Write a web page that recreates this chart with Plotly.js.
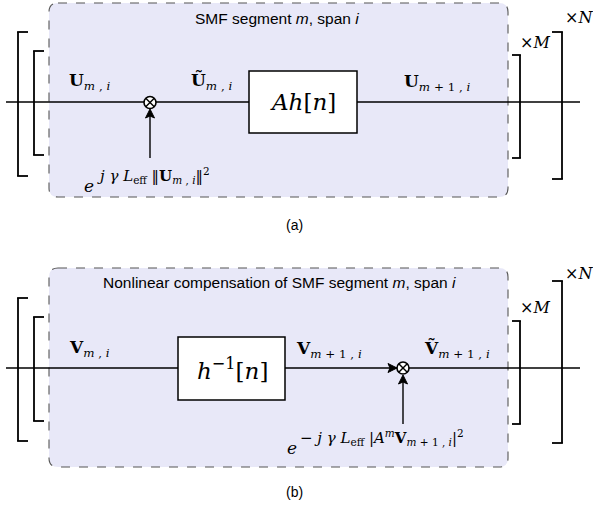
<!DOCTYPE html>
<html>
<head>
<meta charset="utf-8">
<script src="https://cdn.plot.ly/plotly-3.0.1.min.js"></script>
<style>html,body{margin:0;padding:0;background:#fff;}#chart{width:593px;height:506px;}</style>
</head>
<body>
<div id="chart"></div>
<script>
// ---- diagram text content ----
var panelTitles = [
  'SMF segment <i>m</i>, span <i>i</i>',
  'Nonlinear compensation of SMF segment <i>m</i>, span <i>i</i>'
];
var signalLabelsA = [
  '<b>U</b><sub><i>m</i> , <i>i</i></sub>',
  '<b>Ũ</b><sub><i>m</i> , <i>i</i></sub>',
  '<b>U</b><sub><i>m</i> + 1 , <i>i</i></sub>'
];
var signalLabelsB = [
  '<b>V</b><sub><i>m</i> , <i>i</i></sub>',
  '<b>V</b><sub><i>m</i> + 1 , <i>i</i></sub>',
  '<b>Ṽ</b><sub><i>m</i> + 1 , <i>i</i></sub>'
];
var blockLabels = [
  '<i>Ah</i>[<i>n</i>]',
  '<i>h</i><sup>−1</sup>[<i>n</i>]'
];
var phaseBase = ['<i>e</i>', '<i>e</i>'];
var phaseExponents = [
  '<i>j γ L</i><sub>eff</sub> ‖<b>U</b><sub><i>m</i> , <i>i</i></sub>‖<sup>2</sup>',
  '− <i>j γ L</i><sub>eff</sub> |<i>A</i><sup><i>m</i></sup><b>V</b><sub><i>m</i> + 1 , <i>i</i></sub>|<sup>2</sup>'
];
var repeatLabels = ['×<i>N</i>', '×<i>M</i>'];
var captions = ['(a)', '(b)'];

// ---- drawing helpers ----
var shapes = [];
var annotations = [];
var K = '#000';
function line(x0, y0, x1, y1, w, col, dash) {
  shapes.push({type: 'line', xref: 'x', yref: 'y', x0: x0, y0: y0, x1: x1, y1: y1,
    line: {color: col || K, width: w || 1.4, dash: dash || 'solid'}});
}
function rect(x0, y0, x1, y1) {
  shapes.push({type: 'rect', xref: 'x', yref: 'y', x0: x0, y0: y0, x1: x1, y1: y1,
    fillcolor: '#fff', line: {color: K, width: 1.5}});
}
function roundRect(x0, y0, x1, y1, r) {
  var p = 'M' + (x0 + r) + ',' + y0 + ' L' + (x1 - r) + ',' + y0 + ' Q' + x1 + ',' + y0 + ' ' + x1 + ',' + (y0 + r) +
    ' L' + x1 + ',' + (y1 - r) + ' Q' + x1 + ',' + y1 + ' ' + (x1 - r) + ',' + y1 +
    ' L' + (x0 + r) + ',' + y1 + ' Q' + x0 + ',' + y1 + ' ' + x0 + ',' + (y1 - r) +
    ' L' + x0 + ',' + (y0 + r) + ' Q' + x0 + ',' + y0 + ' ' + (x0 + r) + ',' + y0 + ' Z';
  shapes.push({type: 'path', xref: 'x', yref: 'y', path: p, fillcolor: '#e8e8f8',
    line: {color: '#555', width: 1.1, dash: 'dash'}, layer: 'below'});
}
function bracketL(x, y0, y1, tick) {
  line(x, y0, x, y1, 1.8); line(x - 0.9, y0, x + tick, y0, 1.8); line(x - 0.9, y1, x + tick, y1, 1.8);
}
function bracketR(x, y0, y1, tick) {
  line(x, y0, x, y1, 1.8); line(x + 0.9, y0, x - tick, y0, 1.8); line(x + 0.9, y1, x - tick, y1, 1.8);
}
function arrowHead(x, y, dir) {
  var p;
  if (dir === 'up') p = 'M' + x + ',' + y + ' L' + (x - 4.5) + ',' + (y + 9) + ' L' + x + ',' + (y + 7) + ' L' + (x + 4.5) + ',' + (y + 9) + ' Z';
  else p = 'M' + x + ',' + y + ' L' + (x - 9) + ',' + (y - 4.5) + ' L' + (x - 7) + ',' + y + ' L' + (x - 9) + ',' + (y + 4.5) + ' Z';
  shapes.push({type: 'path', xref: 'x', yref: 'y', path: p, fillcolor: K, line: {color: K, width: 1}});
}
function otimes(cx, cy, r) {
  shapes.push({type: 'circle', xref: 'x', yref: 'y', x0: cx - r, y0: cy - r, x1: cx + r, y1: cy + r,
    fillcolor: '#fff', line: {color: K, width: 1.6}});
  var d = r * 0.707;
  line(cx - d, cy - d, cx + d, cy + d, 1.4);
  line(cx - d, cy + d, cx + d, cy - d, 1.4);
}
function text(x, y, s, size, fam, anchor) {
  annotations.push({x: x, y: y, xref: 'x', yref: 'y', text: s, showarrow: false,
    xanchor: anchor || 'center', yanchor: 'middle',
    font: {size: size, family: fam, color: K}});
}
var SERIF = 'DejaVu Serif, Liberation Serif, serif';
var SANS = 'Liberation Sans, Arial, sans-serif';

// ---- panel (a) ----
roundRect(49, 3, 508, 197, 9);
line(6, 102, 580, 102);
bracketL(18, 32, 176, 10);
bracketL(34, 51, 155, 10);
bracketR(520, 55, 158, 8);
bracketR(562, 32, 179, 10);
rect(249, 71, 357, 133);
line(150, 158, 150, 112);
arrowHead(150, 109, 'up');
otimes(150, 102.5, 6);
text(277, 18, panelTitles[0], 15.5, SANS);
text(89, 81, signalLabelsA[0], 17, SERIF);
text(211, 81, signalLabelsA[1], 17, SERIF);
text(437, 82, signalLabelsA[2], 17, SERIF);
text(303, 102, blockLabels[0], 23, SERIF);
text(89, 186, phaseBase[0], 17, SERIF);
text(95, 175, phaseExponents[0], 15, SERIF, 'left');
text(579, 17, repeatLabels[0], 16, SERIF);
text(535, 42, repeatLabels[1], 16, SERIF);
text(294, 225, captions[0], 14, SANS);

// ---- panel (b) ----
roundRect(49, 268, 508, 467, 9);
line(6, 368, 580, 368);
bracketL(18, 298, 441, 10);
bracketL(34, 317, 421, 10);
bracketR(520, 321, 424, 8);
bracketR(562, 281, 443, 10);
rect(178, 337, 285, 400);
arrowHead(397, 368, 'right');
line(403, 424, 403, 378);
arrowHead(403, 375, 'up');
otimes(403, 368, 6);
text(279, 282, panelTitles[1], 15.5, SANS);
text(89, 348, signalLabelsB[0], 17, SERIF);
text(329, 349, signalLabelsB[1], 17, SERIF);
text(457, 349, signalLabelsB[2], 17, SERIF);
text(232, 369, blockLabels[1], 23, SERIF);
text(292, 448, phaseBase[1], 17, SERIF);
text(298, 437, phaseExponents[1], 15, SERIF, 'left');
text(579, 273, repeatLabels[0], 16, SERIF);
text(535, 307, repeatLabels[1], 16, SERIF);
text(294, 492, captions[1], 14, SANS);

var layout = {
  width: 593, height: 506,
  margin: {l: 0, r: 0, t: 0, b: 0},
  paper_bgcolor: '#fff', plot_bgcolor: '#fff',
  xaxis: {range: [0, 593], visible: false, fixedrange: true},
  yaxis: {range: [506, 0], visible: false, fixedrange: true},
  showlegend: false,
  shapes: shapes,
  annotations: annotations
};
Plotly.newPlot('chart', [], layout, {staticPlot: true, displayModeBar: false});
</script>
</body>
</html>
